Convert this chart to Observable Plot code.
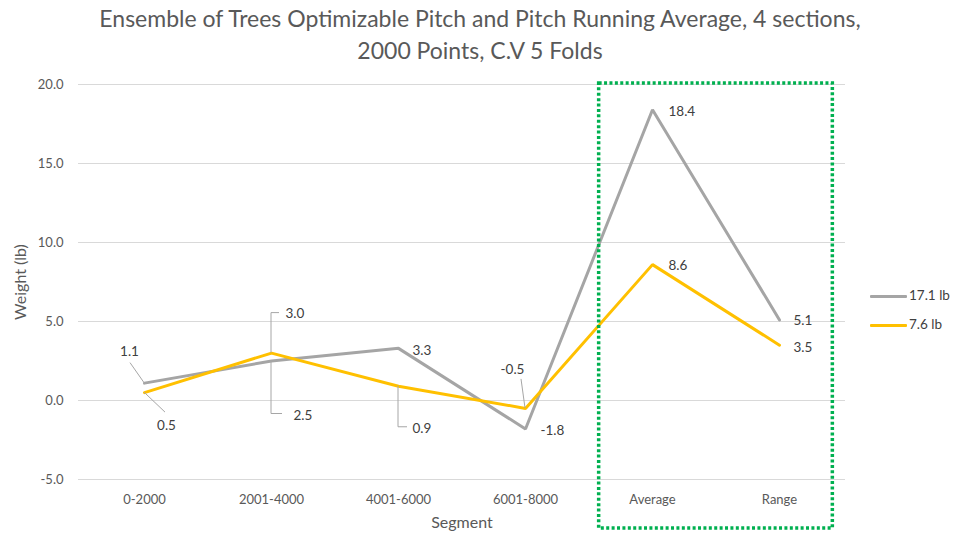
<!DOCTYPE html>
<html><head><meta charset="utf-8">
<script src="https://cdn.jsdelivr.net/npm/d3@7"></script>
<script src="https://cdn.jsdelivr.net/npm/@observablehq/plot@0.6"></script>
<style>
html,body{margin:0;padding:0;background:#fff;font-family:Lato,"Open Sans",sans-serif;}
#wrap{position:relative;width:953px;height:533px;overflow:hidden;}
#title{position:absolute;left:0;top:0;width:960px;height:66px;text-align:center;color:#595959;font-size:23px;line-height:32px;padding-top:2px;box-sizing:border-box;white-space:nowrap;}
#chart{position:absolute;left:0;top:66px;}
#legend{position:absolute;left:870px;top:281px;font-size:13.5px;color:#404040;}
.lrow{height:29px;line-height:29px;white-space:nowrap;}
.lsw{display:inline-block;width:37px;height:3px;vertical-align:middle;margin-right:2px;border-radius:1px;}
</style></head>
<body>
<div id="wrap">
  <div id="title">Ensemble of Trees Optimizable Pitch and Pitch Running Average, 4 sections,<br>2000 Points, C.V 5 Folds</div>
  <div id="chart"></div>
  <div id="legend"></div>
</div>
<script>
// ---- data ----
const segments = ["0-2000", "2001-4000", "4001-6000", "6001-8000", "Average", "Range"];
const series171 = [1.1, 2.5, 3.3, -1.8, 18.4, 5.1];
const series76 = [0.5, 3.0, 0.9, -0.5, 8.6, 3.5];
const seriesNames = ["17.1 lb", "7.6 lb"];
const seriesColors = ["#A5A5A5", "#FFC000"];
const yTicks = [-5, 0, 5, 10, 15, 20];
const highlighted = ["Average", "Range"];
const yLabel = "Weight (lb)";
const xLabel = "Segment";

// label placement (pixel offsets from each point; leader path as relative pixel steps)
const place171 = [
  {dx: -15, dy: -31, anchor: "middle", leader: [[-14, -20]]},
  {dx: 22, dy: 55, anchor: "start", leader: [[0, 53], [11, 53]]},
  {dx: 14, dy: 2, anchor: "start", leader: null},
  {dx: 15, dy: 2, anchor: "start", leader: null},
  {dx: 16, dy: 2, anchor: "start", leader: null},
  {dx: 14, dy: 1, anchor: "start", leader: null}
];
const place76 = [
  {dx: 22, dy: 33, anchor: "middle", leader: [[21, 20]]},
  {dx: 14, dy: -39, anchor: "start", leader: [[0, -40], [8, -40]]},
  {dx: 14, dy: 42, anchor: "start", leader: [[0, 41], [9, 41]]},
  {dx: -13, dy: -39, anchor: "middle", leader: [[-4, -29]]},
  {dx: 16, dy: 1, anchor: "start", leader: null},
  {dx: 14, dy: 2, anchor: "start", leader: null}
];

const allValues = [series171, series76];
const allPlace = [place171, place76];
const rows = [];
allValues.forEach((vals, s) => vals.forEach((v, i) => rows.push({
  series: seriesNames[s], segment: segments[i], value: v, place: allPlace[s][i]
})));

const W = 953, H = 467;

// leaders + highlight box via scales
function extras(index, scales, values, dimensions) {
  const ns = "http://www.w3.org/2000/svg";
  const g = document.createElementNS(ns, "g");
  for (const r of rows) {
    const p = r.place;
    if (!p.leader) continue;
    const x0 = scales.x(r.segment), y0 = scales.y(r.value);
    const path = document.createElementNS(ns, "path");
    let d = `M${x0},${y0}`;
    for (const [ddx, ddy] of p.leader) d += `L${x0 + ddx},${y0 + ddy}`;
    path.setAttribute("d", d);
    path.setAttribute("fill", "none");
    path.setAttribute("stroke", "#A6A6A6");
    path.setAttribute("stroke-width", "1");
    g.appendChild(path);
  }
  const step = scales.x(segments[1]) - scales.x(segments[0]);
  const xl = scales.x(highlighted[0]) - 0.42 * step;
  const xr = scales.x(highlighted[highlighted.length - 1]) + 0.42 * step;
  const yt = scales.y(d3.max(yTicks)) - 1;
  const yb = dimensions.height - 5;
  const rect = document.createElementNS(ns, "rect");
  rect.setAttribute("x", xl); rect.setAttribute("y", yt);
  rect.setAttribute("width", xr - xl); rect.setAttribute("height", yb - yt);
  rect.setAttribute("fill", "none");
  rect.setAttribute("stroke", "#00B050");
  rect.setAttribute("stroke-width", "3.5");
  rect.setAttribute("stroke-dasharray", "3,2.4");
  g.appendChild(rect);
  return g;
}

const labelMarks = rows.map(r => Plot.text([r], {
  x: "segment", y: "value", text: d => d.value.toFixed(1),
  dx: r.place.dx, dy: r.place.dy, textAnchor: r.place.anchor,
  fill: "#404040", fontSize: 13.5
}));

const chart = Plot.plot({
  width: W, height: H,
  marginLeft: 78, marginRight: 108, marginTop: 18, marginBottom: 54,
  style: {fontFamily: "Lato, 'Open Sans', sans-serif", fontSize: "13px", color: "#595959", background: "transparent"},
  x: {type: "point", domain: segments, padding: 0.5, tickSize: 0, tickPadding: 15, label: null},
  y: {domain: [-5, 20], ticks: yTicks, tickFormat: d => d.toFixed(1), tickSize: 0, tickPadding: 15, label: null},
  color: {domain: seriesNames, range: seriesColors},
  marks: [
    Plot.ruleY(yTicks, {stroke: "#D9D9D9", strokeWidth: 1}),
    Plot.line(rows, {x: "segment", y: "value", z: "series", stroke: "series", strokeWidth: 3, strokeLinejoin: "miter"}),
    extras,
    ...labelMarks,
    Plot.text([yLabel], {frameAnchor: "left", textAnchor: "middle", dx: -58, rotate: -90, text: d => d, fontSize: 16, fill: "#595959"}),
    Plot.text([xLabel], {frameAnchor: "bottom", textAnchor: "middle", dy: 48, text: d => d, fontSize: 16, fill: "#595959"})
  ]
});
document.getElementById("chart").appendChild(chart);

const legend = document.getElementById("legend");
seriesNames.forEach((n, i) => {
  const row = document.createElement("div");
  row.className = "lrow";
  row.innerHTML = `<span class="lsw" style="background:${seriesColors[i]}"></span>${n}`;
  legend.appendChild(row);
});
</script>
</body></html>
